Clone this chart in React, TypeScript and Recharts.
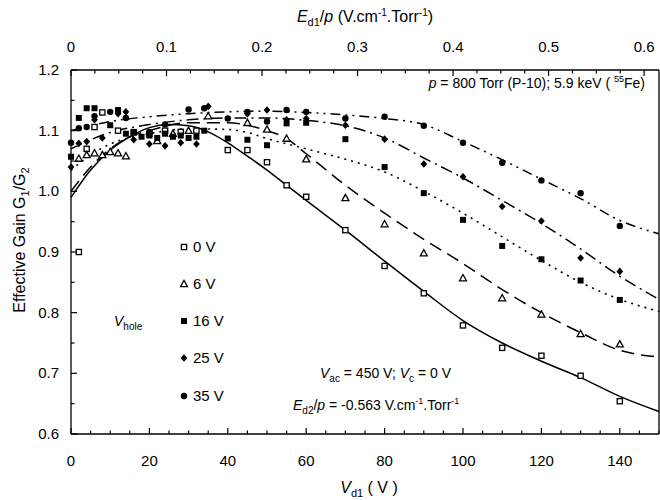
import React from "react";
import { ComposedChart, Line, Scatter, XAxis, YAxis } from "recharts";

// measured points, [V_d1 (V), G1/G2]
const pts0V = [
  [2, 0.9], [4, 1.07], [6, 1.106], [8, 1.13], [12, 1.1], [16, 1.097], [20, 1.095], [24, 1.1],
  [28, 1.098], [32, 1.1], [40, 1.068], [45, 1.068], [50, 1.048], [55, 1.01], [60, 0.991],
  [70, 0.936], [80, 0.877], [90, 0.832], [100, 0.779], [110, 0.742], [120, 0.729], [130, 0.696], [140, 0.654],
];
const pts6V = [
  [2, 1.054], [4, 1.06], [6, 1.063], [8, 1.06], [10, 1.065], [12, 1.063], [14, 1.058], [22, 1.083],
  [26, 1.095], [30, 1.1], [35, 1.124], [45, 1.113], [50, 1.102], [55, 1.087], [60, 1.053],
  [70, 0.989], [80, 0.946], [90, 0.898], [100, 0.857], [110, 0.824], [120, 0.797], [130, 0.765], [140, 0.748],
];
const pts16V = [
  [0, 1.057], [2, 1.121], [4, 1.137], [6, 1.137], [10, 1.109], [12, 1.134], [14, 1.095], [16, 1.098],
  [18, 1.09], [20, 1.092], [22, 1.088], [24, 1.095], [26, 1.09], [28, 1.092], [30, 1.088], [32, 1.09],
  [34, 1.1], [40, 1.087], [45, 1.085], [50, 1.076], [55, 1.112], [60, 1.113], [70, 1.086], [80, 1.04],
  [90, 0.997], [100, 0.953], [110, 0.91], [120, 0.888], [130, 0.853], [140, 0.821],
];
const pts25V = [
  [0, 1.04], [2, 1.079], [4, 1.082], [6, 1.118], [8, 1.088], [12, 1.128], [14, 1.131], [16, 1.085],
  [20, 1.078], [24, 1.075], [28, 1.08], [32, 1.078], [35, 1.14], [45, 1.128], [50, 1.134], [55, 1.118],
  [60, 1.12], [70, 1.109], [80, 1.086], [90, 1.045], [100, 1.024], [110, 0.975], [120, 0.951], [130, 0.89], [140, 0.868],
];
const pts35V = [
  [0, 1.08], [2, 1.104], [4, 1.106], [6, 1.124], [10, 1.131], [14, 1.121], [20, 1.098], [24, 1.11],
  [30, 1.135], [34, 1.137], [40, 1.12], [45, 1.131], [50, 1.115], [55, 1.134], [60, 1.131], [70, 1.12],
  [80, 1.123], [90, 1.108], [100, 1.08], [110, 1.047], [120, 1.018], [130, 0.997], [140, 0.943],
];

// fitted curves
const fit0V = [
  [0, 0.99], [5, 1.035], [10, 1.068], [15, 1.09], [20, 1.105], [25, 1.11], [30, 1.108], [35, 1.098],
  [40, 1.08], [45, 1.058], [50, 1.035], [55, 1.01], [60, 0.985], [70, 0.936], [80, 0.885], [90, 0.835],
  [100, 0.787], [110, 0.75], [120, 0.72], [130, 0.693], [140, 0.662], [150, 0.637],
];
const fit6V = [
  [0, 1.0], [5, 1.04], [10, 1.07], [15, 1.09], [20, 1.1], [30, 1.113], [40, 1.113], [45, 1.109],
  [50, 1.1], [55, 1.087], [60, 1.062], [70, 1.01], [80, 0.964], [90, 0.921], [100, 0.881], [110, 0.838],
  [120, 0.8], [130, 0.767], [140, 0.738], [150, 0.727],
];
const fit16V = [
  [0, 1.035], [5, 1.06], [10, 1.078], [20, 1.095], [30, 1.103], [40, 1.102], [45, 1.097], [50, 1.087],
  [60, 1.07], [70, 1.053], [80, 1.032], [90, 1.0], [100, 0.964], [110, 0.925], [120, 0.886], [130, 0.85],
  [140, 0.822], [150, 0.802],
];
const fit25V = [
  [0, 1.07], [5, 1.085], [10, 1.097], [20, 1.11], [30, 1.118], [40, 1.121], [50, 1.121], [60, 1.117],
  [70, 1.108], [80, 1.088], [90, 1.055], [100, 1.022], [110, 0.985], [120, 0.947], [130, 0.905],
  [140, 0.86], [150, 0.822],
];
const fit35V = [
  [0, 1.1], [5, 1.108], [10, 1.115], [20, 1.123], [30, 1.128], [40, 1.131], [50, 1.132], [60, 1.13],
  [70, 1.126], [80, 1.12], [90, 1.11], [100, 1.082], [110, 1.052], [120, 1.02], [130, 0.988],
  [140, 0.952], [150, 0.93],
];

const bottomTicks = [
  0, 5, 10, 15, 20, 25, 30, 35, 40, 45, 50, 55, 60, 65, 70, 75, 80, 85, 90, 95, 100,
  105, 110, 115, 120, 125, 130, 135, 140, 145, 150,
];
const bottomLabels = [0, 20, 40, 60, 80, 100, 120, 140];
const topTicks = [
  0, 0.025, 0.05, 0.075, 0.1, 0.125, 0.15, 0.175, 0.2, 0.225, 0.25, 0.275, 0.3,
  0.325, 0.35, 0.375, 0.4, 0.425, 0.45, 0.475, 0.5, 0.525, 0.55, 0.575, 0.6,
];
const topLabels = [0, 0.1, 0.2, 0.3, 0.4, 0.5, 0.6];
const yTicks = [0.6, 0.65, 0.7, 0.75, 0.8, 0.85, 0.9, 0.95, 1.0, 1.05, 1.1, 1.15, 1.2];
const yLabels = [0.6, 0.7, 0.8, 0.9, 1.0, 1.1, 1.2];

const TOP_MAX = 0.6156; // E_d1/p at V_d1 = 150 V

const toXY = (a: number[][]) => a.map(([x, y]) => ({ x, y }));
// empty series so the top / right axes get drawn
const topAnchor = topLabels.map((x) => ({ x }));
const rightAnchor = bottomLabels.map((x) => ({ x }));

const FONT = "'Liberation Sans', Arial, sans-serif";

type P = { cx?: number; cy?: number };
const OpenSquare = ({ cx = 0, cy = 0 }: P) => (
  <rect x={cx - 2.6} y={cy - 2.6} width={5.2} height={5.2} fill="#fff" stroke="#000" strokeWidth={1.3} />
);
const OpenTriangle = ({ cx = 0, cy = 0 }: P) => (
  <path d={`M${cx},${cy - 3.6}L${cx + 3.5},${cy + 2.7}L${cx - 3.5},${cy + 2.7}Z`} fill="#fff" stroke="#000" strokeWidth={1.3} />
);
const FilledSquare = ({ cx = 0, cy = 0 }: P) => <rect x={cx - 3} y={cy - 3} width={6} height={6} fill="#000" />;
const Diamond = ({ cx = 0, cy = 0 }: P) => (
  <path d={`M${cx},${cy - 3.8}L${cx + 3.4},${cy}L${cx},${cy + 3.8}L${cx - 3.4},${cy}Z`} fill="#000" />
);
const Dot = ({ cx = 0, cy = 0 }: P) => <circle cx={cx} cy={cy} r={3.2} fill="#000" />;

const BottomTick = (props: any) => {
  const { x, y, payload } = props;
  const major = bottomLabels.includes(payload.value);
  return (
    <g>
      <line x1={x} x2={x} y1={y} y2={y - (major ? 6 : 3.5)} stroke="#000" strokeWidth={1.2} />
      {major && (
        <text x={x} y={y + 32} textAnchor="middle" fontSize={15} fontFamily={FONT} fill="#000">
          {payload.value}
        </text>
      )}
    </g>
  );
};
const TopTick = (props: any) => {
  const { x, y, payload } = props;
  const major = topLabels.includes(payload.value);
  return (
    <g>
      <line x1={x} x2={x} y1={y} y2={y + (major ? 6 : 3.5)} stroke="#000" strokeWidth={1.2} />
      {major && (
        <text x={x} y={y - 18} textAnchor="middle" fontSize={15} fontFamily={FONT} fill="#000">
          {String(payload.value)}
        </text>
      )}
    </g>
  );
};
const LeftTick = (props: any) => {
  const { x, y, payload } = props;
  const major = yLabels.includes(payload.value);
  return (
    <g>
      <line x1={x} x2={x + (major ? 6 : 3.5)} y1={y} y2={y} stroke="#000" strokeWidth={1.2} />
      {major && (
        <text x={x - 12} y={y + 5} textAnchor="end" fontSize={15} fontFamily={FONT} fill="#000">
          {payload.value.toFixed(1)}
        </text>
      )}
    </g>
  );
};
const RightTick = (props: any) => {
  const { x, y, payload } = props;
  const major = yLabels.includes(payload.value);
  return <line x1={x} x2={x - (major ? 6 : 3.5)} y1={y} y2={y} stroke="#000" strokeWidth={1.2} />;
};

const legendRows = [
  { label: "0 V", Shape: OpenSquare, y: 247 },
  { label: "6 V", Shape: OpenTriangle, y: 284 },
  { label: "16 V", Shape: FilledSquare, y: 321 },
  { label: "25 V", Shape: Diamond, y: 358 },
  { label: "35 V", Shape: Dot, y: 396 },
];

const axisLine = { stroke: "#000", strokeWidth: 1.3 };

export default function App() {
  return (
    <div style={{ position: "absolute", left: 0, top: 0, width: 660, height: 500, background: "#fff" }}>
      <ComposedChart width={660} height={500} margin={{ top: 0, right: 0, bottom: 0, left: 0 }}>
        <XAxis
          xAxisId="b"
          dataKey="x"
          type="number"
          domain={[0, 150]}
          ticks={bottomTicks}
          interval={0}
          height={66}
          axisLine={axisLine}
          tickLine={false}
          tickSize={0}
          tickMargin={0}
          tick={BottomTick}
        />
        <XAxis
          xAxisId="t"
          orientation="top"
          dataKey="x"
          type="number"
          domain={[0, TOP_MAX]}
          ticks={topTicks}
          interval={0}
          height={70}
          axisLine={axisLine}
          tickLine={false}
          tickSize={0}
          tickMargin={0}
          tick={TopTick}
        />
        <YAxis
          dataKey="y"
          type="number"
          domain={[0.6, 1.2]}
          ticks={yTicks}
          interval={0}
          width={71}
          axisLine={axisLine}
          tickLine={false}
          tickSize={0}
          tickMargin={0}
          tick={LeftTick}
        />
        <YAxis
          yAxisId="r"
          orientation="right"
          dataKey="y"
          type="number"
          domain={[0.6, 1.2]}
          ticks={yTicks}
          interval={0}
          width={1}
          axisLine={axisLine}
          tickLine={false}
          tickSize={0}
          tickMargin={0}
          tick={RightTick}
        />
        <Line xAxisId="t" data={topAnchor} dataKey="y" stroke="none" dot={false} isAnimationActive={false} />
        <Line xAxisId="b" yAxisId="r" data={rightAnchor} dataKey="y" stroke="none" dot={false} isAnimationActive={false} />
        <Line xAxisId="b" data={toXY(fit0V)} dataKey="y" type="monotone" stroke="#000" strokeWidth={1.5} dot={false} isAnimationActive={false} />
        <Line xAxisId="b" data={toXY(fit6V)} dataKey="y" type="monotone" stroke="#000" strokeWidth={1.5} strokeDasharray="13 7" dot={false} isAnimationActive={false} />
        <Line xAxisId="b" data={toXY(fit16V)} dataKey="y" type="monotone" stroke="#000" strokeWidth={1.6} strokeDasharray="2 5" dot={false} isAnimationActive={false} />
        <Line xAxisId="b" data={toXY(fit25V)} dataKey="y" type="monotone" stroke="#000" strokeWidth={1.5} strokeDasharray="12 5 2 5" dot={false} isAnimationActive={false} />
        <Line xAxisId="b" data={toXY(fit35V)} dataKey="y" type="monotone" stroke="#000" strokeWidth={1.5} strokeDasharray="10 5 2 5 2 5" dot={false} isAnimationActive={false} />
        <Scatter xAxisId="b" data={toXY(pts0V)} shape={OpenSquare} isAnimationActive={false} />
        <Scatter xAxisId="b" data={toXY(pts6V)} shape={OpenTriangle} isAnimationActive={false} />
        <Scatter xAxisId="b" data={toXY(pts16V)} shape={FilledSquare} isAnimationActive={false} />
        <Scatter xAxisId="b" data={toXY(pts25V)} shape={Diamond} isAnimationActive={false} />
        <Scatter xAxisId="b" data={toXY(pts35V)} shape={Dot} isAnimationActive={false} />
      </ComposedChart>
      <svg
        width={660}
        height={500}
        style={{ position: "absolute", left: 0, top: 0, pointerEvents: "none" }}
        fontFamily={FONT}
        fill="#000"
      >
        <text x={365} y={22} textAnchor="middle" fontSize={16}>
          <tspan fontStyle="italic">E</tspan>
          <tspan fontSize={11} dy={4}>d1</tspan>
          <tspan dy={-4}>/</tspan>
          <tspan fontStyle="italic">p</tspan>
          <tspan>{"  (V.cm"}</tspan>
          <tspan fontSize={10} dy={-6}>-1</tspan>
          <tspan dy={6}>.Torr</tspan>
          <tspan fontSize={10} dy={-6}>-1</tspan>
          <tspan dy={6}>)</tspan>
        </text>
        <text x={369} y={493} textAnchor="middle" fontSize={16}>
          <tspan fontStyle="italic">V</tspan>
          <tspan fontSize={11} dy={4}>d1</tspan>
          <tspan dy={-4}>{"  ( V )"}</tspan>
        </text>
        <text x={0} y={0} transform="translate(25,240) rotate(-90)" textAnchor="middle" fontSize={16}>
          <tspan>{"Effective Gain   G"}</tspan>
          <tspan fontSize={11} dy={4}>1</tspan>
          <tspan dy={-4}>/G</tspan>
          <tspan fontSize={11} dy={4}>2</tspan>
        </text>
        <text x={645} y={88} textAnchor="end" fontSize={14}>
          <tspan fontStyle="italic">p</tspan>
          <tspan>{" = 800 Torr (P-10); 5.9 keV ( "}</tspan>
          <tspan fontSize={9} dy={-6}>55</tspan>
          <tspan dy={6}>Fe)</tspan>
        </text>
        <text x={320} y={378} fontSize={14}>
          <tspan fontStyle="italic">V</tspan>
          <tspan fontSize={10} dy={4}>ac</tspan>
          <tspan dy={-4}>{" = 450 V; "}</tspan>
          <tspan fontStyle="italic">V</tspan>
          <tspan fontSize={10} dy={4}>c</tspan>
          <tspan dy={-4}>{" = 0 V"}</tspan>
        </text>
        <text x={293} y={410} fontSize={14}>
          <tspan fontStyle="italic">E</tspan>
          <tspan fontSize={10} dy={4}>d2</tspan>
          <tspan dy={-4}>/</tspan>
          <tspan fontStyle="italic">p</tspan>
          <tspan>{"  = -0.563 V.cm"}</tspan>
          <tspan fontSize={9} dy={-6}>-1</tspan>
          <tspan dy={6}>.Torr</tspan>
          <tspan fontSize={9} dy={-6}>-1</tspan>
        </text>
        <text x={114} y={326} fontSize={14}>
          <tspan fontStyle="italic">V</tspan>
          <tspan fontSize={10} dy={4}>hole</tspan>
        </text>
        {legendRows.map(({ label, Shape, y }) => (
          <g key={label}>
            <Shape cx={184} cy={y} />
            <text x={193} y={y + 5} fontSize={15}>
              {label}
            </text>
          </g>
        ))}
      </svg>
    </div>
  );
}
